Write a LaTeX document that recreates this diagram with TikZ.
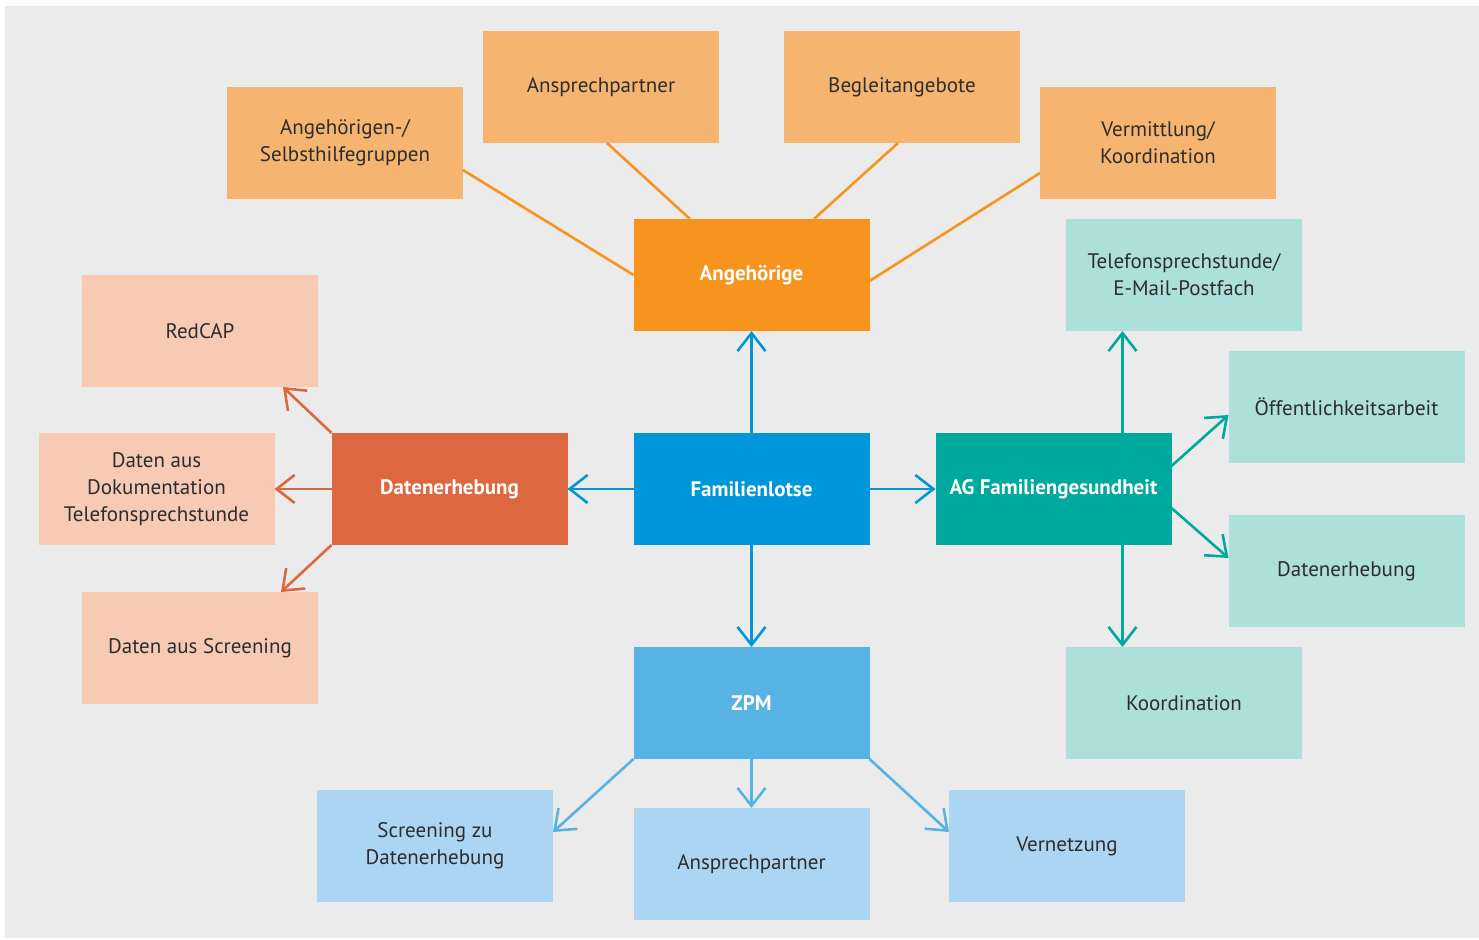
\documentclass[tikz,border=0pt]{standalone}
\usepackage{fontspec}
\setmainfont{PT Sans}
\usetikzlibrary{arrows.meta, positioning}

\definecolor{bggray}{HTML}{EBEBEB}
\definecolor{txtgray}{HTML}{2D2D2D}
\definecolor{angdark}{HTML}{F7941E}
\definecolor{anglight}{HTML}{F5B46F}
\definecolor{famblue}{HTML}{0096DA}
\definecolor{datdark}{HTML}{DD673E}
\definecolor{datlight}{HTML}{F7CAB4}
\definecolor{agdark}{HTML}{00A99D}
\definecolor{aglight}{HTML}{ADDFDB}
\definecolor{zpmdark}{HTML}{58B3E5}
\definecolor{zpmlight}{HTML}{ACD5F3}

\begin{document}
\begin{tikzpicture}[x=0.5pt, y=-0.5pt]
	\tikzset{>={Straight Barb[length=9pt, width=14pt]}, node distance=51pt and 33pt,
		box/.style={rectangle, minimum width=118pt, minimum height=56pt, inner sep=0pt, outer sep=0pt, align=center, text=txtgray, font=\fontsize{10.5}{13.5}\selectfont},
		hub/.style={box, text=white, font=\fontsize{10.5}{13.5}\selectfont\bfseries},
		link/.style={line width=1.3pt} }

	\useasboundingbox (0,0) rectangle (1479,940);
	\fill[bggray] (5,6) rectangle (1479,938);

	% Mitte
	\node[hub, fill=famblue] (fam) at (751.5,489) {Familienlotse};
	\node[hub, fill=angdark, above=of fam] (angeh) {Angehörige};
	\node[hub, fill=datdark, left=of fam] (daten) {Datenerhebung};
	\node[hub, fill=agdark, right=of fam] (ag) {AG Familiengesundheit};
	\node[hub, fill=zpmdark, below=of fam] (zpm) {ZPM};

	% Angehoerige
	\node[box, fill=anglight] (selbst) at (345,143) {Angehörigen-/\\Selbsthilfegruppen};
	\node[box, fill=anglight] (anspoben) at (601,87) {Ansprechpartner};
	\node[box, fill=anglight] (begl) at (902,87) {Begleitangebote};
	\node[box, fill=anglight] (verm) at (1158,143) {Vermittlung/\\Koordination};

	% Datenerhebung
	\node[box, fill=datlight] (redcap) at (200,331) {RedCAP};
	\node[box, fill=datlight] (doku) at (156.5,489) {Daten aus\\Dokumentation\\Telefonsprechstunde};
	\node[box, fill=datlight] (screen) at (200,648) {Daten aus Screening};

	% AG Familiengesundheit
	\node[box, fill=aglight] (tel) at (1184,275) {Telefonsprechstunde/\\E-Mail-Postfach};
	\node[box, fill=aglight] (oeff) at (1346.5,407) {Öffentlichkeitsarbeit};
	\node[box, fill=aglight] (datag) at (1346.5,571) {Datenerhebung};
	\node[box, fill=aglight] (koord) at (1184,703) {Koordination};

	% ZPM
	\node[box, fill=zpmlight] (scrde) at (435,846) {Screening zu\\Datenerhebung};
	\node[box, fill=zpmlight] (anspunten) at (751.5,864) {Ansprechpartner};
	\node[box, fill=zpmlight] (vern) at (1067,846) {Vernetzung};

	\path[link, angdark]
		([xshift=-30.75pt]angeh.north) edge ([xshift=3pt]anspoben.south)
		([xshift=31.25pt]angeh.north) edge ([xshift=-2pt]begl.south)
		(angeh.west) edge ([yshift=-13.5pt]selbst.east)
		([yshift=-3pt]angeh.east) edge ([yshift=-15pt]verm.west);

	\path[link, famblue, ->]
		(fam) edge (angeh)
		(fam) edge (daten)
		(fam) edge (ag)
		(fam) edge (zpm);

	\path[link, datdark, ->]
		(daten.north west) edge ([xshift=-17.5pt]redcap.south east)
		(daten.west) edge (doku.east)
		(daten.south west) edge ([xshift=-18.5pt]screen.north east);

	\path[link, agdark, ->]
		([xshift=34.5pt]ag.north) edge ([xshift=34.5pt]ag.north |- tel.south)
		([yshift=11.5pt]ag.east) edge ([yshift=-4pt]oeff.west)
		([yshift=-9.5pt]ag.east) edge ([yshift=6.5pt]datag.west)
		([xshift=34.5pt]ag.south) edge ([xshift=34.5pt]ag.south |- koord.north);

	\path[link, zpmdark, ->]
		(zpm.south west) edge ([yshift=7pt]scrde.east)
		(zpm.south) edge (anspunten.north)
		(zpm.south east) edge ([yshift=7pt]vern.west);
\end{tikzpicture}
\end{document}
